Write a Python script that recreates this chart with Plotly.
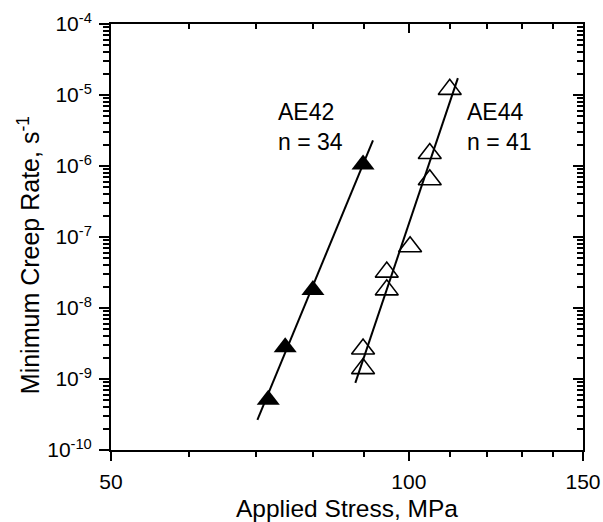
import math
import plotly.graph_objects as go

# Data
ae42_stress = [72.1, 75.0, 80.0, 89.9]
ae42_rate = [5.1e-10, 2.8e-9, 1.8e-8, 1.05e-6]
ae44_stress = [110.0, 105.0, 105.0, 100.3, 95.0, 95.0, 89.9, 89.9]
ae44_rate = [1.2e-5, 1.5e-6, 6.4e-7, 7.3e-8, 3.2e-8, 1.8e-8, 2.65e-9, 1.4e-9]

# Power-law fit lines (end points)
fit42_stress = [70.3, 92.0]
fit42_rate = [2.65e-10, 2.3e-6]
fit44_stress = [88.3, 112.1]
fit44_rate = [8.8e-10, 1.73e-5]

x_major = [50, 100, 150]
x_minor = [60, 70, 80, 90, 110, 120, 130, 140]
y_exps = [-10, -9, -8, -7, -6, -5, -4]
y_major = [10.0 ** e for e in y_exps]
y_ticktext = ["10<sup>%d</sup>" % e for e in y_exps]
y_minor = [k * 10.0 ** e for e in y_exps[:-1] for k in range(2, 10)]

FONT = "Liberation Sans, Arial, sans-serif"
xr = [math.log10(50), math.log10(150)]
yr = [-10, -4]

fig = go.Figure()
fig.add_trace(go.Scatter(x=fit42_stress, y=fit42_rate, mode="lines",
                         line=dict(color="black", width=2), showlegend=False))
fig.add_trace(go.Scatter(x=fit44_stress, y=fit44_rate, mode="lines",
                         line=dict(color="black", width=2), showlegend=False))
fig.add_trace(go.Scatter(x=ae42_stress, y=ae42_rate, mode="markers",
                         marker=dict(symbol="triangle-up", size=20, color="black",
                                     line=dict(width=0)), showlegend=False))
fig.add_trace(go.Scatter(x=ae44_stress, y=ae44_rate, mode="markers",
                         marker=dict(symbol="triangle-up-open", size=20, color="black",
                                     line=dict(width=1.6, color="black")), showlegend=False))
# invisible trace to hold the mirrored (top/right) axes
fig.add_trace(go.Scatter(x=[100], y=[1e-7], xaxis="x2", yaxis="y2", mode="markers",
                         marker=dict(opacity=0), showlegend=False, hoverinfo="skip"))

tickfont = dict(family=FONT, size=21, color="black")
fig.update_layout(
    width=603, height=522,
    margin=dict(l=111, r=20, t=24, b=72, autoexpand=False),
    plot_bgcolor="white", paper_bgcolor="white",
    showlegend=False,
    xaxis=dict(type="log", range=xr, tickmode="array", tickvals=x_major,
               ticktext=[str(v) for v in x_major], ticks="outside", ticklen=9,
               tickwidth=1.5, tickcolor="black", showline=True, linewidth=2,
               linecolor="black", showgrid=False, zeroline=False, tickfont=tickfont,
               ticklabelstandoff=3, automargin=False,
               minor=dict(tickmode="array", tickvals=x_minor, ticks="outside",
                          ticklen=5, tickwidth=1.5, tickcolor="black", showgrid=False),
               title=dict(text="Applied Stress, MPa",
                          font=dict(family=FONT, size=24.5, color="black"), standoff=13)),
    yaxis=dict(type="log", range=yr, tickmode="array", tickvals=y_major,
               ticktext=y_ticktext, ticks="outside", ticklen=10, tickwidth=1.5,
               tickcolor="black", showline=True, linewidth=2, linecolor="black",
               showgrid=False, zeroline=False, tickfont=tickfont,
               ticklabelstandoff=3, automargin=False,
               minor=dict(tickmode="array", tickvals=y_minor, ticks="outside",
                          ticklen=6, tickwidth=1.5, tickcolor="black", showgrid=False)),
    xaxis2=dict(type="log", range=xr, overlaying="x", side="top", anchor="y",
                tickmode="array", tickvals=x_major, ticks="inside", ticklen=9,
                tickwidth=1.5, tickcolor="black", showline=True, linewidth=2,
                linecolor="black", showgrid=False, zeroline=False, showticklabels=False,
                automargin=False,
                minor=dict(tickmode="array", tickvals=x_minor, ticks="inside",
                           ticklen=5, tickwidth=1.5, tickcolor="black", showgrid=False)),
    yaxis2=dict(type="log", range=yr, overlaying="y", side="right", anchor="x",
                tickmode="array", tickvals=y_major, ticks="inside", ticklen=10,
                tickwidth=1.5, tickcolor="black", showline=True, linewidth=2,
                linecolor="black", showgrid=False, zeroline=False, showticklabels=False,
                automargin=False,
                minor=dict(tickmode="array", tickvals=y_minor, ticks="inside",
                           ticklen=6, tickwidth=1.5, tickcolor="black", showgrid=False)),
)

ann_font = dict(family=FONT, size=23, color="black")
fig.add_annotation(x=math.log10(73.4), y=math.log10(3.5e-6), xref="x", yref="y",
                   text="AE42<br>n = 34", showarrow=False, xanchor="left",
                   yanchor="middle", align="left", font=ann_font)
fig.add_annotation(x=math.log10(114.0), y=math.log10(3.5e-6), xref="x", yref="y",
                   text="AE44<br>n = 41", showarrow=False, xanchor="left",
                   yanchor="middle", align="left", font=ann_font)
fig.add_annotation(x=-0.174, y=0.457, xref="paper", yref="paper",
                   text="Minimum Creep Rate, s<sup>-1</sup>", showarrow=False,
                   textangle=-90, xanchor="center", yanchor="middle",
                   font=dict(family=FONT, size=25, color="black"))

fig.write_html("out.html")
